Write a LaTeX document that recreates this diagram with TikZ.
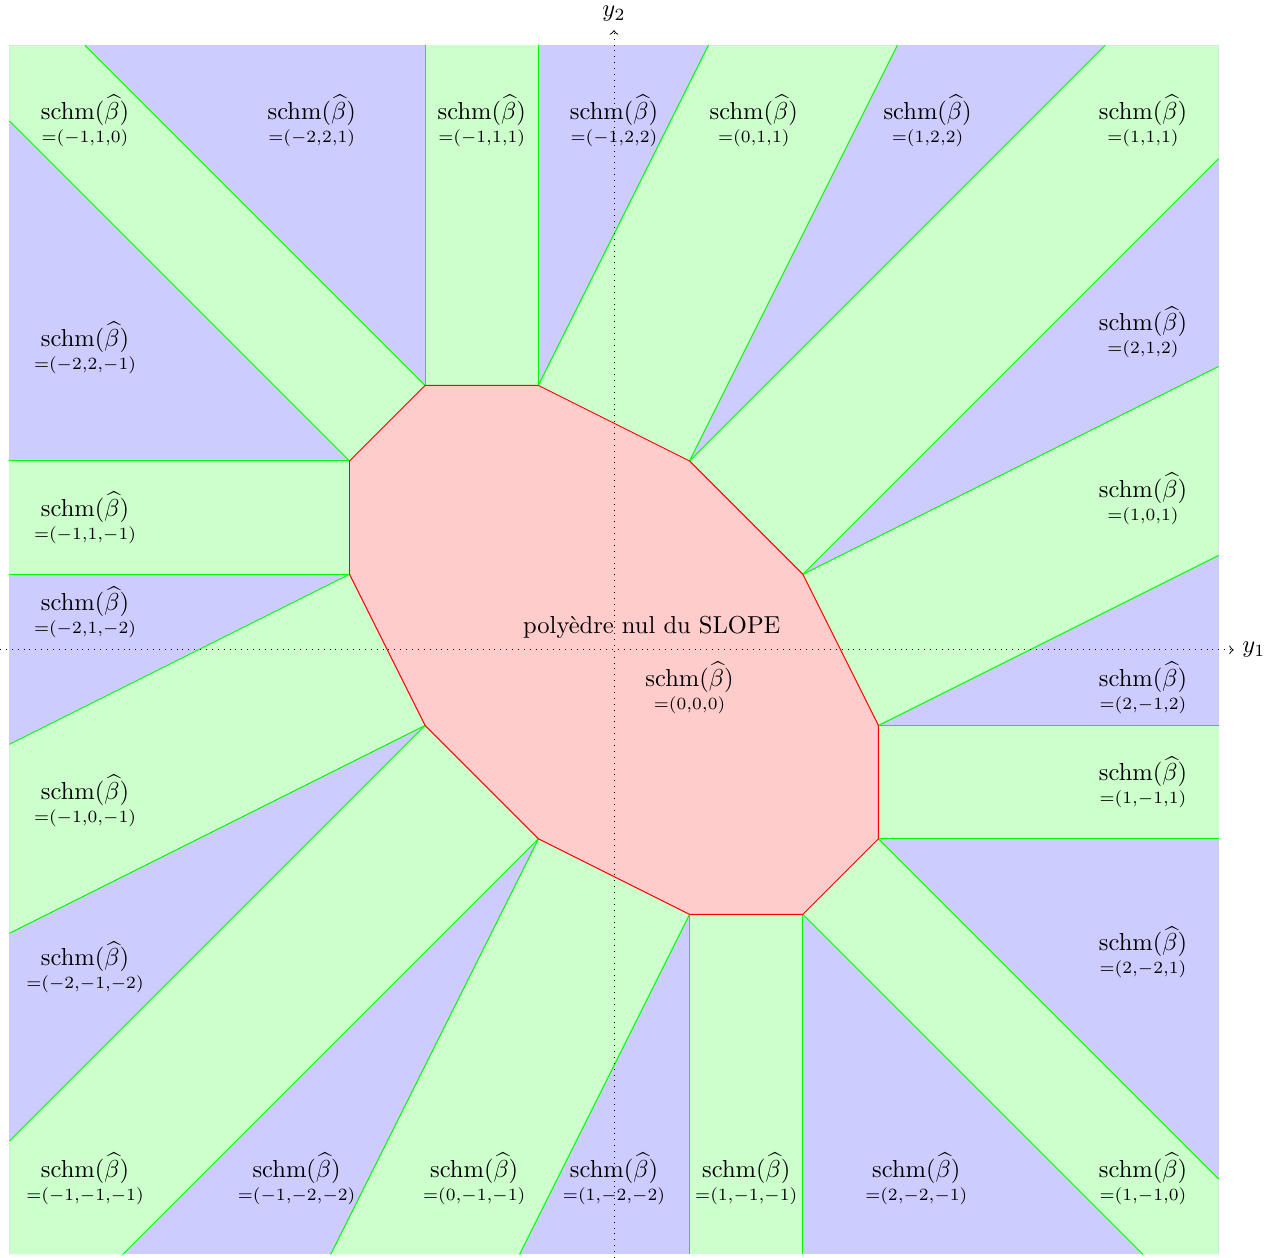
\documentclass[tikz,border=0pt]{standalone}
\usepackage{tikz}

\begin{document}
\begin{tikzpicture}[x=0.5415cm, y=0.5415cm,
    every node/.style={align=center},
    cone/.style={fill=blue!20},
    band/.style={fill=green!20},
    ray/.style={draw=green},
    nulpoly/.style={fill=red!20, draw=red},
    axis/.style={dotted, ->}]
    \useasboundingbox (-16.25,-16.08) rectangle (17.6,17.2);

    % sommets du polyedre nul
    \coordinate (v1) at (-5,7);
    \coordinate (v2) at (-2,7);
    \coordinate (v3) at (2,5);
    \coordinate (v4) at (5,2);
    \coordinate (v5) at (7,-2);
    \coordinate (v6) at (7,-5);
    \coordinate (v7) at (5,-7);
    \coordinate (v8) at (2,-7);
    \coordinate (v9) at (-2,-5);
    \coordinate (v10) at (-5,-2);
    \coordinate (v11) at (-7,2);
    \coordinate (v12) at (-7,5);

    % coins et bords du carre
    \coordinate (nw) at (-16,16);
    \coordinate (ne) at (16,16);
    \coordinate (se) at (16,-16);
    \coordinate (sw) at (-16,-16);
    \coordinate (b1) at (-5,16);
    \coordinate (b2) at (-2,16);
    \coordinate (b3) at (2.5,16);
    \coordinate (b4) at (7.5,16);
    \coordinate (b5) at (13,16);
    \coordinate (b6) at (16,13);
    \coordinate (b7) at (16,7.5);
    \coordinate (b8) at (16,2.5);
    \coordinate (b9) at (16,-2);
    \coordinate (b10) at (16,-5);
    \coordinate (b11) at (16,-14);
    \coordinate (b12) at (14,-16);
    \coordinate (b13) at (5,-16);
    \coordinate (b14) at (2,-16);
    \coordinate (b15) at (-2.5,-16);
    \coordinate (b16) at (-7.5,-16);
    \coordinate (b17) at (-13,-16);
    \coordinate (b18) at (-16,-13);
    \coordinate (b19) at (-16,-7.5);
    \coordinate (b20) at (-16,-2.5);
    \coordinate (b21) at (-16,2);
    \coordinate (b22) at (-16,5);
    \coordinate (b23) at (-16,14);
    \coordinate (b24) at (-14,16);

    % cones des sommets (fond) puis bandes des aretes
    \fill[cone] (sw) rectangle (ne);
    \fill[band] (v1) -- (b1) -- (b2) -- (v2) -- cycle;
    \fill[band] (v2) -- (b3) -- (b4) -- (v3) -- cycle;
    \fill[band] (v3) -- (b5) -- (ne) -- (b6) -- (v4) -- cycle;
    \fill[band] (v4) -- (b7) -- (b8) -- (v5) -- cycle;
    \fill[band] (v5) -- (b9) -- (b10) -- (v6) -- cycle;
    \fill[band] (v6) -- (b11) -- (se) -- (b12) -- (v7) -- cycle;
    \fill[band] (v7) -- (b13) -- (b14) -- (v8) -- cycle;
    \fill[band] (v8) -- (b15) -- (b16) -- (v9) -- cycle;
    \fill[band] (v9) -- (b17) -- (sw) -- (b18) -- (v10) -- cycle;
    \fill[band] (v10) -- (b19) -- (b20) -- (v11) -- cycle;
    \fill[band] (v11) -- (b21) -- (b22) -- (v12) -- cycle;
    \fill[band] (v12) -- (b23) -- (nw) -- (b24) -- (v1) -- cycle;
    \foreach \v/\b in {v1/b1, v2/b2, v2/b3, v3/b4, v3/b5, v4/b6, v4/b7, v5/b8,
        v5/b9, v6/b10, v6/b11, v7/b12, v7/b13, v8/b14, v8/b15, v9/b16,
        v9/b17, v10/b18, v10/b19, v11/b20, v11/b21, v12/b22, v12/b23, v1/b24}
      \draw[ray] (\v) -- (\b);
    \draw[nulpoly] (v1) -- (v2) -- (v3) -- (v4) -- (v5) -- (v6) -- (v7) -- (v8)
      -- (v9) -- (v10) -- (v11) -- (v12) -- cycle;

    % axes
    \coordinate (y1from) at (-16.25,0);
    \coordinate (y1to) at (16.4,0);
    \coordinate (y2from) at (0,-16.25);
    \coordinate (y2to) at (0,16.4);
    \draw[axis] (y1from) -- (y1to) node[right] (y1) {$y_1$};
    \draw[axis] (y2from) -- (y2to) node[above] (y2) {$y_2$};

    % etiquettes
    \node (nul) at (1,0.6) {poly\`edre nul du SLOPE};
    \node (s000) at (2,-1) {schm$(\widehat{\beta})$\\[-2.6pt]$\scriptstyle =(0,0,0)$};

    \node (sm110) at (-14,14) {schm$(\widehat{\beta})$\\[-2.6pt]$\scriptstyle =(-1,1,0)$};
    \node (sm221) at (-8,14) {schm$(\widehat{\beta})$\\[-2.6pt]$\scriptstyle =(-2,2,1)$};
    \node (sm111) at (-3.5,14) {schm$(\widehat{\beta})$\\[-2.6pt]$\scriptstyle =(-1,1,1)$};
    \node (sm122) at (0,14) {schm$(\widehat{\beta})$\\[-2.6pt]$\scriptstyle =(-1,2,2)$};
    \node (s011) at (3.7,14) {schm$(\widehat{\beta})$\\[-2.6pt]$\scriptstyle =(0,1,1)$};
    \node (s122) at (8.3,14) {schm$(\widehat{\beta})$\\[-2.6pt]$\scriptstyle =(1,2,2)$};
    \node (s111) at (14,14) {schm$(\widehat{\beta})$\\[-2.6pt]$\scriptstyle =(1,1,1)$};

    \node (s212) at (14,8.4) {schm$(\widehat{\beta})$\\[-2.6pt]$\scriptstyle =(2,1,2)$};
    \node (s101) at (14,4) {schm$(\widehat{\beta})$\\[-2.6pt]$\scriptstyle =(1,0,1)$};
    \node (s2m12) at (14,-1) {schm$(\widehat{\beta})$\\[-2.6pt]$\scriptstyle =(2,-1,2)$};
    \node (s1m11) at (14,-3.5) {schm$(\widehat{\beta})$\\[-2.6pt]$\scriptstyle =(1,-1,1)$};
    \node (s2m21) at (14,-8) {schm$(\widehat{\beta})$\\[-2.6pt]$\scriptstyle =(2,-2,1)$};
    \node (s1m10) at (14,-14) {schm$(\widehat{\beta})$\\[-2.6pt]$\scriptstyle =(1,-1,0)$};

    \node (sm1m1m1) at (-14,-14) {schm$(\widehat{\beta})$\\[-2.6pt]$\scriptstyle =(-1,-1,-1)$};
    \node (sm1m2m2) at (-8.4,-14) {schm$(\widehat{\beta})$\\[-2.6pt]$\scriptstyle =(-1,-2,-2)$};
    \node (s0m1m1) at (-3.7,-14) {schm$(\widehat{\beta})$\\[-2.6pt]$\scriptstyle =(0,-1,-1)$};
    \node (s1m2m2) at (0,-14) {schm$(\widehat{\beta})$\\[-2.6pt]$\scriptstyle =(1,-2,-2)$};
    \node (s1m1m1) at (3.5,-14) {schm$(\widehat{\beta})$\\[-2.6pt]$\scriptstyle =(1,-1,-1)$};
    \node (s2m2m1) at (8,-14) {schm$(\widehat{\beta})$\\[-2.6pt]$\scriptstyle =(2,-2,-1)$};

    \node (sm22m1) at (-14,8) {schm$(\widehat{\beta})$\\[-2.6pt]$\scriptstyle =(-2,2,-1)$};
    \node (sm11m1) at (-14,3.5) {schm$(\widehat{\beta})$\\[-2.6pt]$\scriptstyle =(-1,1,-1)$};
    \node (sm21m2) at (-14,1) {schm$(\widehat{\beta})$\\[-2.6pt]$\scriptstyle =(-2,1,-2)$};
    \node (sm10m1) at (-14,-4) {schm$(\widehat{\beta})$\\[-2.6pt]$\scriptstyle =(-1,0,-1)$};
    \node (sm2m1m2) at (-14,-8.4) {schm$(\widehat{\beta})$\\[-2.6pt]$\scriptstyle =(-2,-1,-2)$};
  \end{tikzpicture}
\end{document}
